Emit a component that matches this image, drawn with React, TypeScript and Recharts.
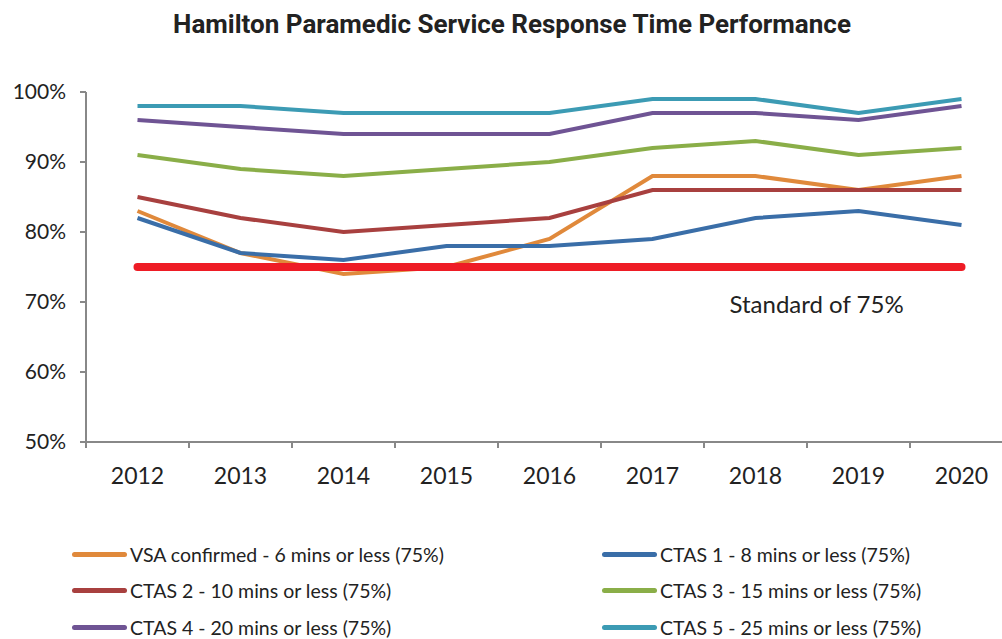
import React from 'react';
import { CartesianGrid, Line, LineChart, XAxis, YAxis } from 'recharts';

const years = [2012, 2013, 2014, 2015, 2016, 2017, 2018, 2019, 2020];
const vsa = [83, 77, 74, 75, 79, 88, 88, 86, 88];
const ctas1 = [82, 77, 76, 78, 78, 79, 82, 83, 81];
const ctas2 = [85, 82, 80, 81, 82, 86, 86, 86, 86];
const ctas3 = [91, 89, 88, 89, 90, 92, 93, 91, 92];
const ctas4 = [96, 95, 94, 94, 94, 97, 97, 96, 98];
const ctas5 = [98, 98, 97, 97, 97, 99, 99, 97, 99];
const standard = [75, 75, 75, 75, 75, 75, 75, 75, 75];
const yTicks = [50, 60, 70, 80, 90, 100];
const boundaryTicks = [2011.5, 2012.5, 2013.5, 2014.5, 2015.5, 2016.5, 2017.5, 2018.5, 2019.5, 2020.5];

const series = [
  { key: 'vsa', name: 'VSA confirmed - 6 mins or less (75%)', color: '#E0893B', values: vsa },
  { key: 'ctas1', name: 'CTAS 1 - 8 mins or less (75%)', color: '#3A6EA8', values: ctas1 },
  { key: 'ctas2', name: 'CTAS 2 - 10 mins or less (75%)', color: '#A8403F', values: ctas2 },
  { key: 'ctas3', name: 'CTAS 3 - 15 mins or less (75%)', color: '#8AAE48', values: ctas3 },
  { key: 'ctas4', name: 'CTAS 4 - 20 mins or less (75%)', color: '#6F5494', values: ctas4 },
  { key: 'ctas5', name: 'CTAS 5 - 25 mins or less (75%)', color: '#3C9BB4', values: ctas5 },
];

const data = years.map((year, i) => {
  const row: Record<string, number> = { year, standard: standard[i] };
  series.forEach((s) => {
    row[s.key] = s.values[i];
  });
  return row;
});

const FONT = 'Lato, "Open Sans", sans-serif';

const StandardLabel = (props: any) => {
  const { x, y, index } = props;
  if (index !== 6) return null;
  return (
    <text x={x - 26} y={y + 46} fontSize={24} fontFamily={FONT} fill="#222">
      Standard of 75%
    </text>
  );
};

export default function App() {
  return (
    <div style={{ position: 'relative', width: 1002, height: 639, overflow: 'hidden', background: '#fff' }}>
      <style>{'body{margin:0}'}</style>
      <div
        style={{
          position: 'absolute',
          top: 9,
          left: 0,
          width: 1024,
          textAlign: 'center',
          fontFamily: 'Roboto, sans-serif',
          fontWeight: 700,
          fontSize: 26,
          color: '#222',
        }}
      >
        Hamilton Paramedic Service Response Time Performance
      </div>
      <LineChart width={1020} height={500} data={data} margin={{ top: 92, right: 7, left: 0, bottom: 0 }}>
        <CartesianGrid stroke="none" />
        {/* boundary ticks between the years, Excel style */}
        <XAxis
          xAxisId="a"
          dataKey="year"
          type="number"
          domain={[2011.5, 2020.5]}
          ticks={boundaryTicks}
          tickFormatter={() => ''}
          height={8}
          tickSize={6}
          stroke="#888"
          strokeWidth={2}
        />
        <XAxis
          xAxisId="b"
          dataKey="year"
          type="number"
          domain={[2011.5, 2020.5]}
          ticks={years}
          axisLine={false}
          tickLine={false}
          height={50}
          tickMargin={12}
          tick={{ fontSize: 23, fontFamily: FONT, fill: '#222' }}
        />
        <YAxis
          domain={[50, 100]}
          ticks={yTicks}
          width={86}
          tickSize={6}
          tickMargin={14}
          tickFormatter={(v: number) => `${v}%`}
          stroke="#888"
          strokeWidth={2}
          tick={{ fontSize: 21, fontFamily: FONT, fill: '#222' }}
        />
        {series.map((s) => (
          <Line
            key={s.key}
            xAxisId="a"
            dataKey={s.key}
            name={s.name}
            stroke={s.color}
            strokeWidth={4}
            dot={false}
            isAnimationActive={false}
          />
        ))}
        <Line
          xAxisId="a"
          dataKey="standard"
          stroke="#EE1C25"
          strokeWidth={8}
          strokeLinecap="round"
          dot={false}
          label={<StandardLabel />}
          isAnimationActive={false}
        />
      </LineChart>
      <div
        style={{
          position: 'absolute',
          top: 543,
          left: 72,
          width: 930,
          display: 'grid',
          gridTemplateColumns: '530px 400px',
          rowGap: 14.5,
          fontFamily: FONT,
          fontSize: 19.5,
          color: '#222',
        }}
      >
        {series.map((s) => (
          <div key={s.key} style={{ display: 'flex', alignItems: 'center', height: 22 }}>
            <span style={{ display: 'inline-block', width: 55, height: 5, borderRadius: 3, background: s.color, marginRight: 3 }} />
            <span>{s.name}</span>
          </div>
        ))}
      </div>
    </div>
  );
}
